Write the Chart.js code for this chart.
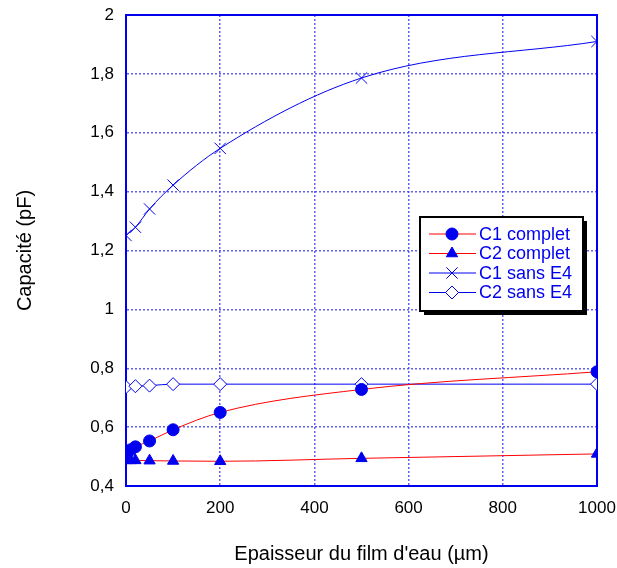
<!DOCTYPE html>
<html>
<head>
<meta charset="utf-8">
<script src="https://cdn.jsdelivr.net/npm/chart.js@4/dist/chart.umd.min.js"></script>
<style>
  html, body { margin: 0; padding: 0; background: #fff; }
  #wrap { width: 617px; height: 568px; }
</style>
</head>
<body>
<div id="wrap"><canvas id="chart"></canvas></div>
<script>
// épaisseur du film d'eau (µm)
const xComplet = [0, 10, 20, 50, 100, 200, 500, 1000];
const c1Complet = [0.503, 0.523, 0.533, 0.553, 0.591, 0.650, 0.728, 0.788];
const c2Complet = [0.487, 0.487, 0.487, 0.486, 0.485, 0.484, 0.494, 0.509];

const xSans = [0, 20, 50, 100, 200, 500, 1000];
const c1Sans = [1.251, 1.279, 1.341, 1.422, 1.547, 1.786, 1.910];
const c2Sans = [0.736, 0.739, 0.741, 0.746, 0.746, 0.746, 0.746];

const xTicks = [0, 200, 400, 600, 800, 1000];
const yTicks = [0.4, 0.6, 0.8, 1, 1.2, 1.4, 1.6, 1.8, 2];

const BLUE = 'rgb(0,0,240)';
const RED = 'rgb(255,0,0)';
const FONT = '"Liberation Sans", Arial, sans-serif';

function toPoints(xs, ys) {
  return xs.map((x, i) => ({ x, y: ys[i] }));
}

const datasets = [
  {
    label: 'C1 complet',
    data: toPoints(xComplet, c1Complet),
    borderColor: RED,
    borderWidth: 1,
    pointStyle: 'circle',
    pointRadius: 6,
    pointBackgroundColor: BLUE,
    pointBorderColor: BLUE,
    pointBorderWidth: 1
  },
  {
    label: 'C2 complet',
    data: toPoints(xComplet, c2Complet),
    borderColor: RED,
    borderWidth: 1,
    pointStyle: 'triangle',
    pointRadius: 6.5,
    pointBackgroundColor: BLUE,
    pointBorderColor: BLUE,
    pointBorderWidth: 1
  },
  {
    label: 'C1 sans E4',
    data: toPoints(xSans, c1Sans),
    borderColor: BLUE,
    borderWidth: 1,
    pointStyle: 'crossRot',
    pointRadius: 8,
    pointBorderColor: BLUE,
    pointBorderWidth: 1
  },
  {
    label: 'C2 sans E4',
    data: toPoints(xSans, c2Sans),
    borderColor: BLUE,
    borderWidth: 1,
    pointStyle: 'rectRot',
    pointRadius: 6.5,
    pointBackgroundColor: '#fff',
    pointBorderColor: BLUE,
    pointBorderWidth: 1
  }
];

// cadre plein autour de la zone du graphe
const frame = {
  id: 'frame',
  beforeDatasetsDraw(chart) {
    const { ctx, chartArea: a } = chart;
    ctx.save();
    ctx.strokeStyle = BLUE;
    ctx.lineWidth = 2;
    ctx.strokeRect(a.left, a.top, a.right - a.left, a.bottom - a.top);
    ctx.restore();
  }
};

// légende encadrée avec ombre, dessinée dans la zone du graphe
const boxLegend = {
  id: 'boxLegend',
  afterDraw(chart) {
    const ctx = chart.ctx;
    const area = chart.chartArea;
    const left = area.right - 177, top = area.top + 202;
    const w = 163, h = 94;
    ctx.save();
    ctx.fillStyle = '#000';
    ctx.fillRect(left + 4, top + 4, w, h);
    ctx.fillStyle = '#fff';
    ctx.fillRect(left, top, w, h);
    ctx.strokeStyle = '#000';
    ctx.lineWidth = 2;
    ctx.strokeRect(left, top, w, h);

    ctx.font = '18px ' + FONT;
    ctx.textBaseline = 'middle';
    chart.data.datasets.forEach((ds, i) => {
      const y = top + 17 + i * 19.5;
      ctx.strokeStyle = ds.borderColor;
      ctx.lineWidth = 1;
      ctx.beginPath();
      ctx.moveTo(left + 9, y);
      ctx.lineTo(left + 56, y);
      ctx.stroke();
      ctx.fillStyle = ds.pointBackgroundColor || BLUE;
      ctx.strokeStyle = ds.pointBorderColor;
      Chart.helpers.drawPoint(ctx, {
        pointStyle: ds.pointStyle,
        radius: ds.pointRadius,
        rotation: 0,
        borderWidth: 1
      }, left + 32, y);
      ctx.fillStyle = BLUE;
      ctx.fillText(ds.label, left + 59, y + 1);
    });
    ctx.restore();
  }
};

new Chart(document.getElementById('chart'), {
  type: 'line',
  data: { datasets },
  plugins: [frame, boxLegend],
  options: {
    responsive: true,
    maintainAspectRatio: false,
    animation: false,
    layout: { padding: { top: 15, right: 20, left: 0, bottom: 0 } },
    elements: { line: { cubicInterpolationMode: 'monotone' } },
    plugins: {
      legend: { display: false },
      tooltip: { enabled: false }
    },
    scales: {
      x: {
        type: 'linear',
        min: 0,
        max: 1000,
        afterBuildTicks(scale) {
          scale.ticks = xTicks.map(v => ({ value: v }));
        },
        afterFit(scale) {
          scale.height = 82;
          scale.paddingLeft = 0;
          scale.paddingRight = 0;
        },
        ticks: {
          color: '#000',
          font: { family: FONT, size: 17 },
          padding: 12,
          maxRotation: 0,
          callback(value) { return String(value); }
        },
        grid: {
          color: 'rgba(70,70,235,0.85)',
          lineWidth: 1.5,
          drawTicks: false
        },
        border: { display: true, color: BLUE, width: 2, dash: [2, 2] },
        title: {
          display: true,
          text: "Epaisseur du film d'eau (µm)",
          color: '#000',
          font: { family: FONT, size: 20 },
          padding: { top: 0, bottom: 2 }
        }
      },
      y: {
        type: 'linear',
        min: 0.4,
        max: 2,
        afterBuildTicks(scale) {
          scale.ticks = yTicks.map(v => ({ value: v }));
        },
        afterFit(scale) {
          scale.width = 126;
          scale.paddingTop = 0;
          scale.paddingBottom = 0;
        },
        ticks: {
          color: '#000',
          font: { family: FONT, size: 17 },
          padding: 12,
          callback(value) {
            return String(Math.round(value * 10) / 10).replace('.', ',');
          }
        },
        grid: {
          color: 'rgba(70,70,235,0.85)',
          lineWidth: 1.5,
          drawTicks: false
        },
        border: { display: true, color: BLUE, width: 2, dash: [2, 2] },
        title: {
          display: true,
          text: 'Capacité (pF)',
          color: '#000',
          font: { family: FONT, size: 20 },
          padding: { top: 13, bottom: 0 }
        }
      }
    }
  }
});
</script>
</body>
</html>
